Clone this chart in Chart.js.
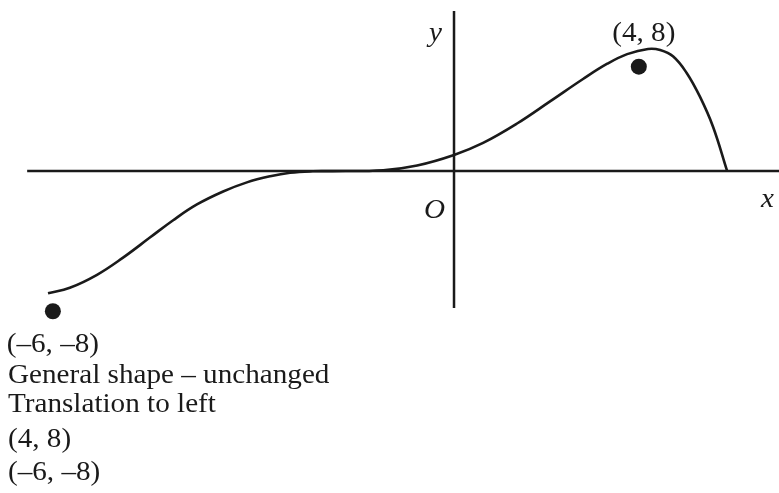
<!DOCTYPE html>
<html>
<head>
<meta charset="utf-8">
<script src="https://cdn.jsdelivr.net/npm/chart.js@4/dist/chart.umd.min.js"></script>
<style>
html, body { margin: 0; padding: 0; background: #fff; }
#wrap { position: relative; width: 779px; height: 493px; }
</style>
</head>
<body>
<div id="wrap"><canvas id="chart" width="779" height="493"></canvas></div>
<script>
// curve (x: O = 0, peak at 4; y: O = 0, peak at 8)
const curveX = [-8.37, -7.92, -7.36, -6.83, -6.27, -5.79, -5.30, -4.76, -4.27, -3.79, -3.38, -2.91, -2.50, -1.46, -0.76, 0, 0.60, 1.30, 1.98, 2.66, 3.16, 3.57, 4.00, 4.25, 4.52, 4.80, 5.07, 5.34, 5.63];
const curveY = [-8.02, -7.66, -6.81, -5.70, -4.37, -3.23, -2.20, -1.35, -0.75, -0.35, -0.12, -0.02, -0.01, 0.05, 0.36, 1.05, 1.84, 3.11, 4.56, 6.03, 7.03, 7.66, 8.00, 7.93, 7.50, 6.41, 4.87, 2.90, 0];

// the two marked points and their labels
const dotX = [-8.27, 3.81];
const dotY = [-9.2, 6.84];
const dotLabels = ["(–6, –8)", "(4, 8)"];

// axis extents
const xAxisX = [-8.8, 6.7];
const yAxisY = [10.49, -8.98];

// notes under the graph
const notes = ["General shape – unchanged", "Translation to left", "(4, 8)", "(–6, –8)"];

const ink = "#1a1a1a";

function pts(xs, ys) {
  return xs.map((x, i) => ({ x, y: ys[i] }));
}

function serifText(ctx, str, x, y, italic, align) {
  ctx.save();
  ctx.translate(x, y);
  ctx.scale(1.08, 1);
  ctx.font = (italic ? "italic " : "") + "27px 'Liberation Serif', 'Times New Roman', serif";
  ctx.fillStyle = ink;
  ctx.textAlign = align || "left";
  ctx.textBaseline = "alphabetic";
  ctx.fillText(str, 0, 0);
  ctx.restore();
}

const labelsPlugin = {
  id: "labels",
  afterDatasetsDraw(chart) {
    const { ctx, scales: { x, y } } = chart;
    const ox = x.getPixelForValue(0);
    const oy = y.getPixelForValue(0);

    // axis names
    serifText(ctx, "y", ox - 12, y.getPixelForValue(yAxisY[0]) + 30, true, "right");
    serifText(ctx, "x", x.getPixelForValue(xAxisX[1]) - 5, oy + 36, true, "right");
    serifText(ctx, "O", ox - 9, oy + 47, true, "right");

    // point labels
    serifText(ctx, dotLabels[0], x.getPixelForValue(dotX[0]), y.getPixelForValue(dotY[0]) + 41, false, "center");
    serifText(ctx, dotLabels[1], x.getPixelForValue(dotX[1]) + 5, y.getPixelForValue(dotY[1]) - 26, false, "center");

    // notes
    const baselines = [383, 412, 447, 480];
    notes.forEach((t, i) => serifText(ctx, t, 8, baselines[i], false, "left"));
  }
};

new Chart(document.getElementById("chart"), {
  type: "scatter",
  data: {
    datasets: [
      {
        data: pts(xAxisX, [0, 0]),
        showLine: true, borderColor: ink, borderWidth: 2.5, pointRadius: 0
      },
      {
        data: pts([0, 0], yAxisY),
        showLine: true, borderColor: ink, borderWidth: 2.5, pointRadius: 0
      },
      {
        data: pts(curveX, curveY),
        showLine: true, borderColor: ink, borderWidth: 2.6, pointRadius: 0,
        tension: 0.4
      },
      {
        data: pts(dotX, dotY),
        showLine: false, pointRadius: 8, pointBackgroundColor: ink, pointBorderColor: ink, pointBorderWidth: 0
      }
    ]
  },
  options: {
    responsive: false,
    devicePixelRatio: 1,
    animation: false,
    layout: { padding: 0, autoPadding: false },
    plugins: { legend: { display: false }, tooltip: { enabled: false } },
    elements: { line: { borderCapStyle: "butt" } },
    scales: {
      x: { type: "linear", min: -9.36, max: 6.70, display: false },
      y: { type: "linear", min: -21.12, max: 11.21, display: false }
    }
  },
  plugins: [labelsPlugin]
});
</script>
</body>
</html>
